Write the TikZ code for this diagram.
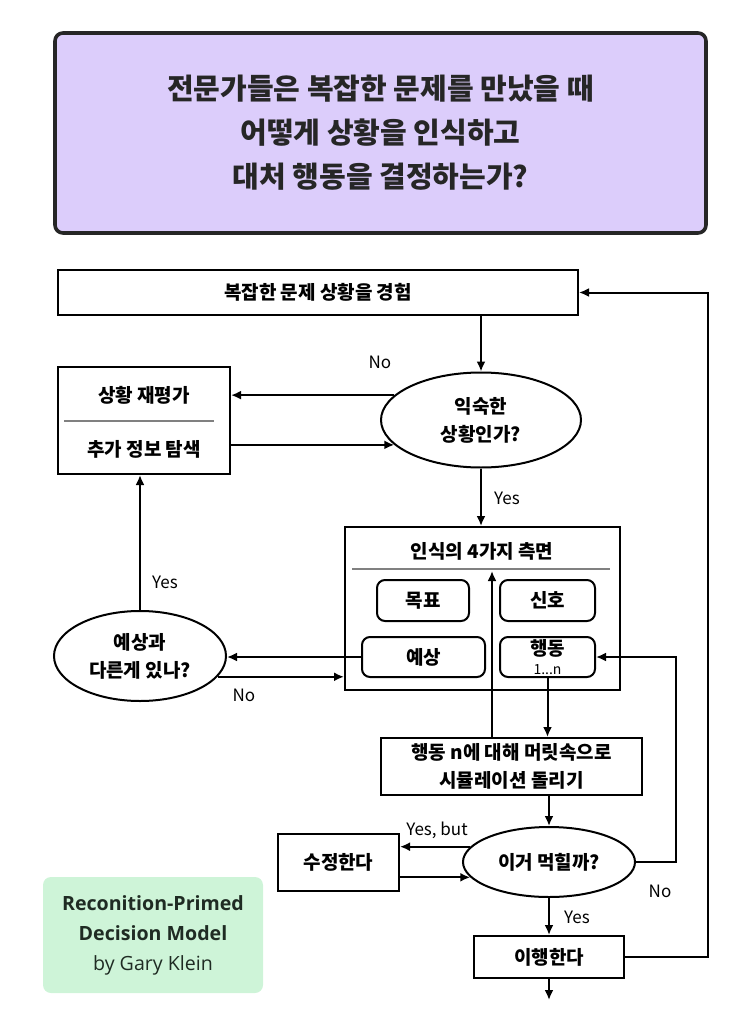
\documentclass[tikz,border=0pt]{standalone}
\usepackage{fontspec}
\setmainfont{Noto Sans CJK KR}
\newfontfamily\notefont{Open Sans}
\usetikzlibrary{arrows.meta,shapes.geometric}
\definecolor{titlebg}{HTML}{DCCDFB}
\definecolor{titleline}{HTML}{262626}
\definecolor{notebg}{HTML}{CEF4D8}
\definecolor{notetext}{HTML}{1F2B23}
\tikzset{
  flow/.style={draw, line width=1pt, font=\fontsize{9.5}{14}\selectfont\bfseries, align=center, inner sep=0pt},
  flowbox/.style={flow, rectangle},
  choice/.style={flow, ellipse},
  aspect/.style={flow, rounded corners=4pt},
  arr/.style={line width=1pt, -{Latex[length=5pt,width=4.5pt]}},
  lbl/.style={font=\fontsize{8.5}{10}\selectfont},
}
\begin{document}
\begin{tikzpicture}[x=0.5pt,y=-0.5pt]
	\useasboundingbox (0,0) rectangle (750,1027);
	% question
	\node[draw=titleline, fill=titlebg, line width=1.8pt, rounded corners=4pt,
		minimum width=325.5pt, minimum height=100pt, align=center,
		font=\fontsize{14.5}{22}\selectfont\bfseries, text=titleline] (title) at (380.5,133)
		{전문가들은 복잡한 문제를 만났을 때\\어떻게 상황을 인식하고\\대처 행동을 결정하는가?};
	% main flow
	\node[flowbox, minimum width=260pt, minimum height=22.5pt] (exp) at (318,292.5) {복잡한 문제 상황을 경험};
	\node[choice, minimum width=100pt, minimum height=47.5pt] (fam) at (481,420) {익숙한\\상황인가?};
	\node[flowbox, minimum width=86pt, minimum height=53.5pt] (reev) at (144,420.5) {};
	\node[font=\fontsize{9.5}{10}\selectfont\bfseries] (reevtop) at (144,395) {상황 재평가};
	\node[font=\fontsize{9.5}{10}\selectfont\bfseries] (reevbot) at (144,449) {추가 정보 탐색};
	\draw[gray, line width=0.6pt] (64,421) -- (214,421);
	\node[flowbox, minimum width=137.5pt, minimum height=81.5pt] (asp) at (482.5,608.5) {};
	\node[font=\fontsize{9.5}{10}\selectfont\bfseries] (asptitle) at (482,551) {인식의 4가지 측면};
	\draw[gray, line width=0.6pt] (352,569) -- (610,569);
	\node[aspect, minimum width=46pt, minimum height=20.5pt] (goal) at (423,600.5) {목표};
	\node[aspect, minimum width=47.5pt, minimum height=20.5pt] (cue) at (547.5,600.5) {신호};
	\node[aspect, minimum width=61.5pt, minimum height=20pt] (expt) at (423.5,657) {예상};
	\node[aspect, minimum width=47.5pt, minimum height=20pt, font=\fontsize{9.5}{9.5}\selectfont\bfseries] (act) at (547.5,657)
		{행동\\{\fontsize{7}{8}\selectfont\mdseries 1...n}};
	\node[choice, minimum width=86pt, minimum height=45pt] (diff) at (140,656) {예상과\\다른게 있나?};
	\node[flowbox, minimum width=130.5pt, minimum height=28.5pt] (sim) at (511.5,766.5) {행동 n에 대해 머릿속으로\\시뮬레이션 돌리기};
	\node[choice, minimum width=86pt, minimum height=35pt] (work) at (549,862) {이거 먹힐까?};
	\node[flowbox, minimum width=60.5pt, minimum height=28.5pt] (fix) at (338.5,862.5) {수정한다};
	\node[flowbox, minimum width=75pt, minimum height=21pt] (exec) at (549,957) {이행한다};
	\coordinate (aspcut) at (492,571);
	\coordinate (out) at (549,1000);
	% connectors
	\draw[arr] (fam.north |- exp.south) -- (fam.north);
	\draw[arr] (fam.164) -- (fam.164 -| reev.east);
	\draw[arr] (reev.east |- fam.196) -- (fam.196);
	\draw[arr] (fam.south) -- (fam.south |- asp.north);
	\draw[arr] (sim.north -| aspcut) -- (aspcut);
	\draw[arr] (act.south) -- (act.south |- sim.north);
	\draw[arr, line width=1.3pt] (expt.west) -- (expt.west -| diff.east);
	\draw[arr] (diff.-15) -- (diff.-15 -| asp.west);
	\draw[arr] (diff.north) -- (diff.north |- reev.south);
	\draw[arr] (work.north |- sim.south) -- (work.north);
	\draw[arr] (work.169) -- (work.169 -| fix.east);
	\draw[arr] (fix.east |- work.191) -- (work.191);
	\draw[arr] (work.east) -- ++(40,0) |- (act.east);
	\draw[arr] (work.south) -- (exec.north);
	\draw[arr] (exec.east) -- ++(83,0) |- (exp.east);
	\draw[arr] (exec.south) -- (out);
	% answers
	\node[lbl] at (380,362) {No};
	\node[lbl] at (507,498) {Yes};
	\node[lbl] at (165,582) {Yes};
	\node[lbl] at (244,695) {No};
	\node[lbl] at (437,830) {Yes, but};
	\node[lbl] at (660,891) {No};
	\node[lbl] at (577,917) {Yes};
	% credit
	\node[fill=notebg, rounded corners=4pt, minimum width=110pt, minimum height=58pt, align=center,
		text=notetext, font=\notefont\fontsize{9.8}{15}\selectfont] (note) at (153,935)
		{\textbf{Reconition-Primed}\\\textbf{Decision Model}\\by Gary Klein};
\end{tikzpicture}
\end{document}
